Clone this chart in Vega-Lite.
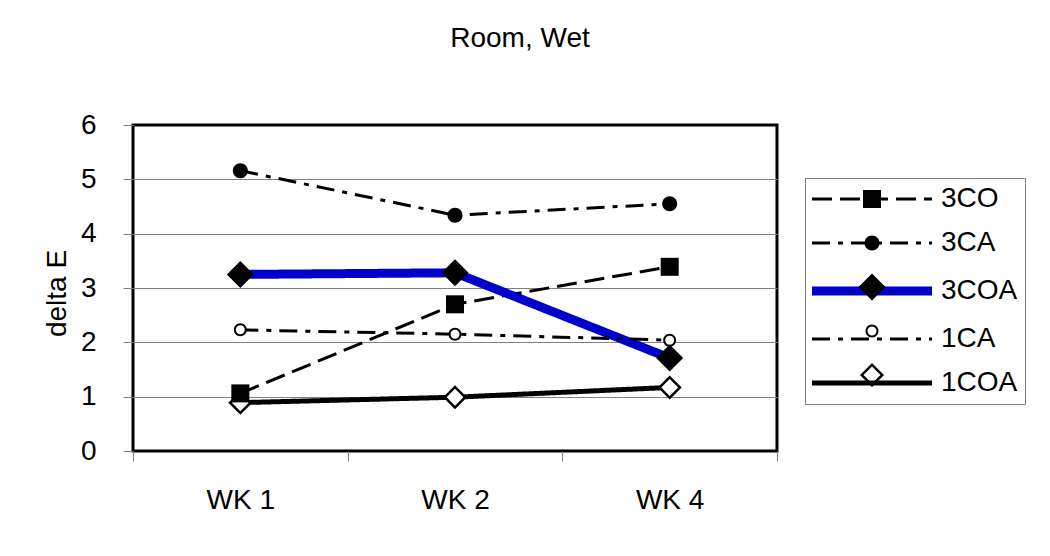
{
  "$schema": "https://vega.github.io/schema/vega-lite/v6.json",
  "width": 644,
  "height": 326,
  "autosize": {"type": "none"},
  "padding": {"left": 133, "top": 125, "right": 273, "bottom": 105},
  "background": "white",
  "title": {
    "text": "Room, Wet",
    "fontSize": 28,
    "fontWeight": "normal",
    "font": "Liberation Sans",
    "color": "black",
    "anchor": "middle",
    "frame": "group",
    "dx": 65,
    "baseline": "alphabetic",
    "offset": 36
  },
  "data": {
    "values": [
      {"week": "WK 1", "series": "3CO", "value": 1.06},
      {"week": "WK 2", "series": "3CO", "value": 2.70},
      {"week": "WK 4", "series": "3CO", "value": 3.39},
      {"week": "WK 1", "series": "3CA", "value": 5.16},
      {"week": "WK 2", "series": "3CA", "value": 4.34},
      {"week": "WK 4", "series": "3CA", "value": 4.55},
      {"week": "WK 1", "series": "3COA", "value": 3.25},
      {"week": "WK 2", "series": "3COA", "value": 3.28},
      {"week": "WK 4", "series": "3COA", "value": 1.71},
      {"week": "WK 1", "series": "1CA", "value": 2.23},
      {"week": "WK 2", "series": "1CA", "value": 2.15},
      {"week": "WK 4", "series": "1CA", "value": 2.04},
      {"week": "WK 1", "series": "1COA", "value": 0.89},
      {"week": "WK 2", "series": "1COA", "value": 0.99},
      {"week": "WK 4", "series": "1COA", "value": 1.17}
    ]
  },
  "encoding": {
    "x": {
      "field": "week",
      "type": "nominal",
      "sort": ["WK 1", "WK 2", "WK 4"],
      "scale": {"type": "band", "paddingInner": 0, "paddingOuter": 0},
      "axis": {
        "title": null,
        "labelAngle": 0,
        "domain": false,
        "tickBand": "extent",
        "tickColor": "#808080",
        "tickSize": 10,
        "tickWidth": 1,
        "labelFontSize": 28,
        "labelFont": "Liberation Sans",
        "labelColor": "black",
        "labelPadding": 25,
        "grid": false
      }
    },
    "y": {
      "field": "value",
      "type": "quantitative",
      "scale": {"domain": [0, 6], "nice": false, "zero": true},
      "axis": {
        "title": "delta E",
        "values": [0, 1, 2, 3, 4, 5, 6],
        "domain": false,
        "grid": true,
        "gridColor": {"condition": {"test": "datum.value === 0 || datum.value === 6", "value": "transparent"}, "value": "#808080"},
        "gridWidth": 1,
        "tickColor": "#808080",
        "tickSize": 10,
        "tickWidth": 1,
        "labelFontSize": 28,
        "labelFont": "Liberation Sans",
        "labelColor": "black",
        "labelPadding": 27,
        "titleFontSize": 28,
        "titleFont": "Liberation Sans",
        "titleFontWeight": "normal",
        "titleColor": "black",
        "titleX": -76,
        "titleY": 168,
        "titleAngle": 270,
        "titleAlign": "center",
        "titleBaseline": "middle"
      }
    }
  },
  "layer": [
    {
      "mark": {"type": "line", "strokeCap": "butt", "strokeJoin": "miter"},
      "encoding": {
        "color": {
          "field": "series",
          "type": "nominal",
          "scale": {"domain": ["3CO", "3CA", "3COA", "1CA", "1COA"], "range": ["black", "black", "#0000CC", "black", "black"]},
          "legend": {
            "orient": "none", "legendX": 672, "legendY": 53, "padding": 7,
            "strokeColor": "#808080", "title": null,
            "symbolType": "M-60,0H60", "symbolSize": 4, "symbolOffset": 46,
            "labelOffset": 55, "labelFontSize": 28, "labelFont": "Liberation Sans", "labelColor": "black",
            "rowPadding": 16
          }
        },
        "strokeDash": {
          "field": "series",
          "type": "nominal",
          "scale": {"domain": ["3CO", "3CA", "3COA", "1CA", "1COA"], "range": [[20, 8], [18, 8, 5, 8], [1, 0], [18, 8, 5, 8], [1, 0]]},
          "legend": {
            "orient": "none", "legendX": 672, "legendY": 53, "padding": 7,
            "strokeColor": "#808080", "title": null,
            "symbolType": "M-60,0H60", "symbolSize": 4, "symbolOffset": 46,
            "labelOffset": 55, "labelFontSize": 28, "labelFont": "Liberation Sans", "labelColor": "black",
            "rowPadding": 16
          }
        },
        "strokeWidth": {
          "field": "series",
          "type": "nominal",
          "scale": {"type": "ordinal", "domain": ["3CO", "3CA", "3COA", "1CA", "1COA"], "range": [3, 3, 9, 3, 5]},
          "legend": {
            "orient": "none", "legendX": 672, "legendY": 53, "padding": 7,
            "strokeColor": "#808080", "title": null,
            "symbolType": "M-60,0H60", "symbolSize": 4, "symbolOffset": 46,
            "labelOffset": 55, "labelFontSize": 28, "labelFont": "Liberation Sans", "labelColor": "black",
            "rowPadding": 16
          }
        }
      }
    },
    {
      "transform": [{"filter": "datum.series === '1CA'"}],
      "mark": {"type": "point", "shape": "circle", "filled": true, "fill": "white", "strokeWidth": 0, "size": 90, "opacity": 1}
    },
    {
      "transform": [{"filter": "datum.series === '1COA'"}],
      "mark": {"type": "point", "shape": "diamond", "filled": true, "fill": "white", "strokeWidth": 0, "size": 300, "opacity": 1}
    },
    {
      "mark": {"type": "point", "filled": true, "fill": "black", "strokeWidth": 0, "size": 4, "opacity": 1},
      "encoding": {
        "shape": {
          "field": "series",
          "type": "nominal",
          "sort": ["3CO", "3CA", "3COA", "1CA", "1COA"],
          "scale": {"range": [
            "M-9,-9H9V9H-9Z",
            "M-7.5,0A7.5,7.5 0 1,1 7.5,0A7.5,7.5 0 1,1 -7.5,0Z",
            "M0,-13.5L13.5,0L0,13.5L-13.5,0Z",
            "M-6.5,0A6.5,6.5 0 1,1 6.5,0A6.5,6.5 0 1,1 -6.5,0ZM-4.5,0A4.5,4.5 0 1,0 4.5,0A4.5,4.5 0 1,0 -4.5,0Z",
            "M0,-12L12,0L0,12L-12,0ZM0,-8.5L-8.5,0L0,8.5L8.5,0Z"
          ]},
          "legend": {
            "orient": "none", "legendX": 672, "legendY": 53, "padding": 7,
            "title": null, "symbolOffset": 46, "symbolSize": 4,
            "symbolStrokeWidth": 0, "symbolFillColor": "black", "symbolOpacity": 1,
            "labelOffset": 55, "labelFontSize": 28, "labelFont": "Liberation Sans", "labelExpr": "' '",
            "rowPadding": 16
          }
        }
      }
    }
  ],
  "config": {
    "font": "Liberation Sans",
    "view": {"stroke": "black", "strokeWidth": 3}
  }
}
